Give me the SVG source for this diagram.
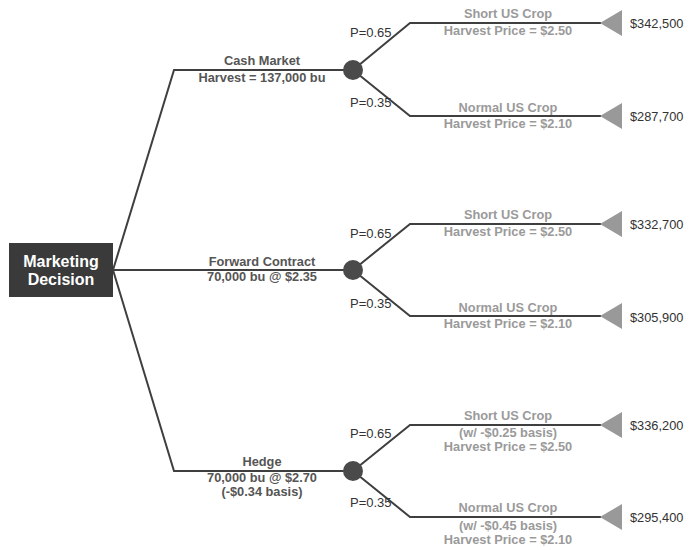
<svg xmlns="http://www.w3.org/2000/svg" width="692" height="550" viewBox="0 0 692 550">
  <style>
    .edge { fill: none; stroke: #3f3f3f; stroke-width: 2; }
    .chance { fill: #4a4a4a; }
    .leaf { fill: #999999; }
    .lbl { font-family: "Liberation Sans", Arial, sans-serif; font-weight: bold; font-size: 12.8px; text-anchor: middle; }
    .dec { fill: #555555; }
    .out { fill: #9a9a9a; }
    .prob { font-family: "Liberation Sans", Arial, sans-serif; font-size: 13px; fill: #333333; }
    .val { font-family: "Liberation Sans", Arial, sans-serif; font-size: 12.8px; fill: #333333; }
    .title { font-family: "Liberation Sans", Arial, sans-serif; font-weight: bold; font-size: 16px; fill: #ffffff; text-anchor: middle; }
  </style>
  <rect width="692" height="550" fill="#ffffff"/>

  <g id="connectors">
    <!-- decision branches -->
    <polyline class="edge" points="113,270 174,70 353,70"/>
    <polyline class="edge" points="113,270 353,270"/>
    <polyline class="edge" points="113,270 174,471 353,471"/>
    <!-- cash market outcomes -->
    <polyline class="edge" points="353,70 410,23 601,23"/>
    <polyline class="edge" points="353,70 410,116 601,116"/>
    <!-- forward contract outcomes -->
    <polyline class="edge" points="353,270 410,224 601,224"/>
    <polyline class="edge" points="353,270 410,316 601,316"/>
    <!-- hedge outcomes -->
    <polyline class="edge" points="353,471 410,425 601,425"/>
    <polyline class="edge" points="353,471 410,517 601,517"/>
  </g>

  <g id="decision">
    <rect x="9" y="243" width="104" height="54" fill="#3a3a3a"/>
    <text class="title" x="61" y="267">Marketing</text>
    <text class="title" x="61" y="285">Decision</text>
  </g>

  <g id="cash-market">
    <text class="lbl dec" x="262" y="65">Cash Market</text>
    <text class="lbl dec" x="262" y="82">Harvest = 137,000 bu</text>
    <circle class="chance" cx="353" cy="70" r="10"/>
  </g>
  <g id="forward-contract">
    <text class="lbl dec" x="262" y="266">Forward Contract</text>
    <text class="lbl dec" x="262" y="281">70,000 bu @ $2.35</text>
    <circle class="chance" cx="353" cy="270" r="10"/>
  </g>
  <g id="hedge">
    <text class="lbl dec" x="262" y="466">Hedge</text>
    <text class="lbl dec" x="262" y="482">70,000 bu @ $2.70</text>
    <text class="lbl dec" x="262" y="496">(-$0.34 basis)</text>
    <circle class="chance" cx="353" cy="471" r="10"/>
  </g>

  <!-- cash market outcomes -->
  <g id="cash-short">
    <text class="prob" x="350" y="37">P=0.65</text>
    <text class="lbl out" x="508" y="18">Short US Crop</text>
    <text class="lbl out" x="508" y="35">Harvest Price = $2.50</text>
    <polygon class="leaf" points="600,23 622,10 622,36"/>
    <text class="val" x="630" y="28">$342,500</text>
  </g>
  <g id="cash-normal">
    <text class="prob" x="350" y="107">P=0.35</text>
    <text class="lbl out" x="508" y="112">Normal US Crop</text>
    <text class="lbl out" x="508" y="128">Harvest Price = $2.10</text>
    <polygon class="leaf" points="600,116 622,103 622,129"/>
    <text class="val" x="630" y="121">$287,700</text>
  </g>

  <!-- forward contract outcomes -->
  <g id="forward-short">
    <text class="prob" x="350" y="238">P=0.65</text>
    <text class="lbl out" x="508" y="219">Short US Crop</text>
    <text class="lbl out" x="508" y="236">Harvest Price = $2.50</text>
    <polygon class="leaf" points="600,224 622,211 622,237"/>
    <text class="val" x="630" y="229">$332,700</text>
  </g>
  <g id="forward-normal">
    <text class="prob" x="350" y="308">P=0.35</text>
    <text class="lbl out" x="508" y="312">Normal US Crop</text>
    <text class="lbl out" x="508" y="328">Harvest Price = $2.10</text>
    <polygon class="leaf" points="600,316 622,303 622,329"/>
    <text class="val" x="630" y="322">$305,900</text>
  </g>

  <!-- hedge outcomes -->
  <g id="hedge-short">
    <text class="prob" x="350" y="438">P=0.65</text>
    <text class="lbl out" x="508" y="420">Short US Crop</text>
    <text class="lbl out" x="508" y="437" font-weight="normal">(w/ -$0.25 basis)</text>
    <text class="lbl out" x="508" y="451">Harvest Price = $2.50</text>
    <polygon class="leaf" points="600,425 622,412 622,438"/>
    <text class="val" x="630" y="430">$336,200</text>
  </g>
  <g id="hedge-normal">
    <text class="prob" x="350" y="507">P=0.35</text>
    <text class="lbl out" x="508" y="512">Normal US Crop</text>
    <text class="lbl out" x="508" y="530" font-weight="normal">(w/ -$0.45 basis)</text>
    <text class="lbl out" x="508" y="544">Harvest Price = $2.10</text>
    <polygon class="leaf" points="600,517 622,504 622,530"/>
    <text class="val" x="630" y="522">$295,400</text>
  </g>
</svg>
